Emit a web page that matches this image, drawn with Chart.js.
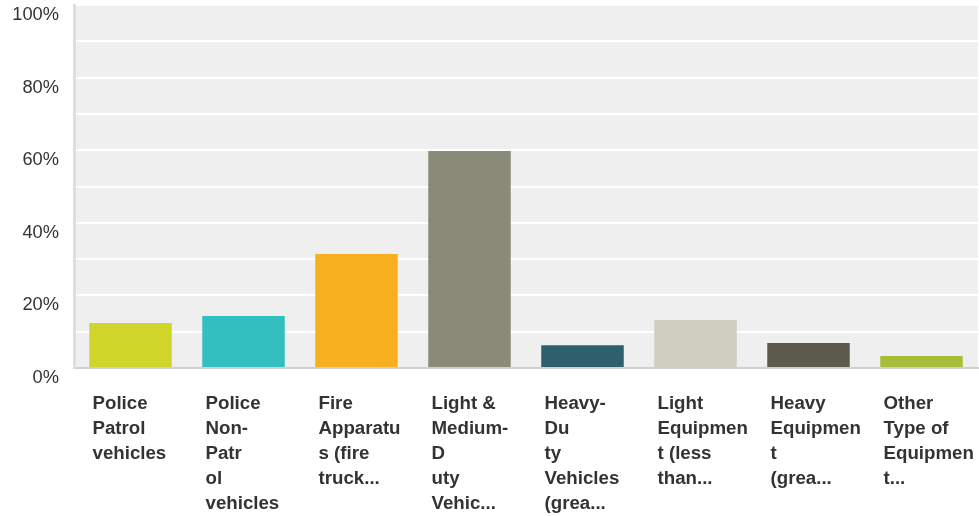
<!DOCTYPE html>
<html>
<head>
<meta charset="utf-8">
<script src="https://cdn.jsdelivr.net/npm/chart.js@4.4.0/dist/chart.umd.min.js"></script>
<style>
    html, body { margin: 0; padding: 0; background: #ffffff; }
    #wrap { width: 979px; height: 516px; position: relative; }
</style>
</head>
<body>
<div id="wrap"><canvas id="equipChart"></canvas></div>
<script>
// Category labels, already broken into lines the way they're shown under each bar
const categories = [
    ['Police', 'Patrol', 'vehicles'],
    ['Police', 'Non-', 'Patr', 'ol', 'vehicles'],
    ['Fire', 'Apparatu', 's (fire', 'truck...'],
    ['Light &', 'Medium-', 'D', 'uty', 'Vehic...'],
    ['Heavy-', 'Du', 'ty', 'Vehicles', '(grea...'],
    ['Light', 'Equipmen', 't (less', 'than...'],
    ['Heavy', 'Equipmen', 't', '(grea...'],
    ['Other', 'Type of', 'Equipmen', 't...']
];

// Share of responses (%)
const shares = [12.4, 14.3, 31.4, 59.8, 6.3, 13.2, 6.9, 3.3];

const barColors = ['#D0D52A', '#33BEC0', '#F7AE1F', '#8A8A79', '#2E5F6D', '#CFCEC0', '#5C5A4B', '#A9BE38'];

// Tick labels on the value axis (only every other gridline is labelled)
const yTickLabels = ['0%', '20%', '40%', '60%', '80%', '100%'];

// Fill the plot area grey before anything else is drawn
const plotBackground = {
    id: 'plotBackground',
    beforeDraw(chart) {
        const { ctx, chartArea } = chart;
        ctx.save();
        ctx.fillStyle = '#EFEFEF';
        ctx.fillRect(chartArea.left, chartArea.top, chartArea.right - chartArea.left, chartArea.bottom - chartArea.top);
        ctx.restore();
    }
};

const ctx = document.getElementById('equipChart').getContext('2d');

new Chart(ctx, {
    type: 'bar',
    data: {
        labels: categories,
        datasets: [{
            data: shares,
            backgroundColor: barColors,
            borderWidth: 0,
            barPercentage: 0.73,
            categoryPercentage: 1.0
        }]
    },
    options: {
        responsive: true,
        maintainAspectRatio: false,
        animation: false,
        layout: { padding: { top: 5, right: 1, left: 0, bottom: 0 } },
        plugins: {
            legend: { display: false },
            tooltip: { enabled: false }
        },
        scales: {
            x: {
                grid: { display: false, drawTicks: false },
                border: { color: '#CFCFCF', width: 2 },
                ticks: {
                    autoSkip: false,
                    maxRotation: 0,
                    minRotation: 0,
                    align: 'start',
                    labelOffset: -38,
                    padding: 23,
                    color: '#333333',
                    font: { family: 'Liberation Sans, Arial, sans-serif', size: 18.7, weight: 'bold', lineHeight: '25px' }
                },
                afterFit(scale) {
                    scale.height = 148;
                    // labels are pulled left, so no extra side room is needed
                    scale.paddingLeft = 0;
                    scale.paddingRight = 0;
                }
            },
            y: {
                min: 0,
                max: 100,
                grid: { color: '#FFFFFF', lineWidth: 2, drawTicks: false },
                border: { color: '#DEDEDE', width: 3 },
                ticks: {
                    stepSize: 10,
                    padding: 15,
                    labelOffset: 10,
                    color: '#333333',
                    font: { family: 'Liberation Sans, Arial, sans-serif', size: 18.3 },
                    callback(value) {
                        return value % 20 === 0 ? yTickLabels[value / 20] : '';
                    }
                },
                afterFit(scale) {
                    scale.width = 74;
                    scale.paddingTop = 0;
                    scale.paddingBottom = 0;
                }
            }
        }
    },
    plugins: [plotBackground]
});
</script>
</body>
</html>
